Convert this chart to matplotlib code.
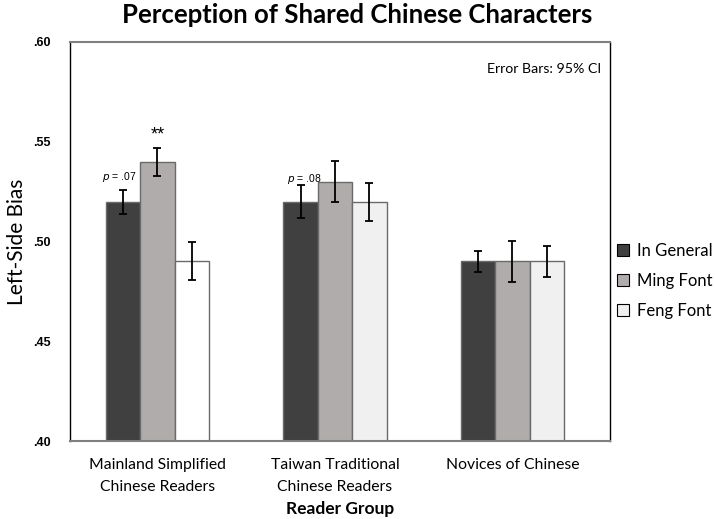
import matplotlib
matplotlib.use("Agg")
import matplotlib.pyplot as plt
import numpy as np
from matplotlib.patches import Patch

groups = ["Mainland Simplified\nChinese Readers", "Taiwan Traditional\nChinese Readers", "Novices of Chinese"]
series = ["In General", "Ming Font", "Feng Font"]
in_general = [0.520, 0.520, 0.490]
ming_font = [0.540, 0.530, 0.490]
feng_font = [0.490, 0.520, 0.490]
err_general = [0.006, 0.0083, 0.0052]
err_ming = [0.007, 0.0104, 0.0103]
err_feng = [0.0095, 0.0095, 0.0078]
yticks = [0.40, 0.45, 0.50, 0.55, 0.60]
ytick_labels = [".40", ".45", ".50", ".55", ".60"]

colors = ["#404040", "#b0acab", "#f0f0f0"]
feng_colors = ["#ffffff", "#f0f0f0", "#f0f0f0"]

fig = plt.figure(figsize=(7.15, 5.19), dpi=100)
ax = fig.add_axes([70/715, 1-441/519, 540/715, 399/519])

x = np.arange(len(groups))
w = 0.194
vals = [in_general, ming_font, feng_font]
errs = [err_general, err_ming, err_feng]
for i, (v, e) in enumerate(zip(vals, errs)):
    fc = feng_colors if i == 2 else colors[i]
    ax.bar(x + (i - 1) * w, v, w, color=fc, edgecolor="#6a6a6a", linewidth=1.0,
           yerr=e, error_kw=dict(ecolor="black", elinewidth=1.3, capsize=3, capthick=1.3), zorder=2)

ax.set_ylim(0.40, 0.60)
ax.set_xlim(-0.493, 2.55)
ax.set_yticks(yticks)
ax.set_yticklabels(ytick_labels, fontfamily="Liberation Sans", fontweight="bold", fontsize=9)
ax.set_xticks(x)
ax.set_xticklabels(groups, fontfamily="Lato", fontsize=11.3, linespacing=1.75)
ax.tick_params(axis="x", length=0, pad=12)
ax.tick_params(axis="y", length=0, pad=14)

for side in ["left", "right"]:
    ax.spines[side].set_color("black")
    ax.spines[side].set_linewidth(1.0)
for side in ["top", "bottom"]:
    ax.spines[side].set_color("#808080")
    ax.spines[side].set_linewidth(1.5)

ax.set_ylabel("Left-Side Bias", fontfamily="Lato", fontsize=15)
ax.yaxis.set_label_coords(-43/540, 0.5)
ax.set_xlabel("Reader Group", fontfamily="Lato", fontweight="bold", fontsize=12.5, labelpad=5)
fig.suptitle("Perception of Shared Chinese Characters", fontfamily="Lato", fontweight="bold",
             fontsize=18.5, y=1 - 15/519, x=357/715, va="center")

ax.text(0.983, 0.932, "Error Bars: 95% CI", transform=ax.transAxes, ha="right", va="center",
        fontfamily="Lato", fontsize=10.2)

# significance annotations
ax.text(x[0], ming_font[0] + err_ming[0] + 0.0063, "**", ha="center", va="center",
        fontfamily="Liberation Sans", fontsize=13)
ax.text(x[0] - w - 0.02, in_general[0] + err_general[0] + 0.0065, "$p$ = .07", ha="center", va="center",
        fontfamily="Liberation Sans", fontsize=7.5)
ax.text(x[1] - w + 0.02, in_general[1] + err_general[1] + 0.003, "$p$ = .08", ha="center", va="center",
        fontfamily="Liberation Sans", fontsize=7.5)

handles = [Patch(facecolor=c, edgecolor="black", linewidth=0.8) for c in colors]
leg = fig.legend(handles, series, loc="upper left", bbox_to_anchor=(610/715, 1-236/519),
                 frameon=False, prop=dict(family="Lato", size=12), handlelength=0.75,
                 handleheight=0.75, handletextpad=0.45, labelspacing=0.85, borderaxespad=0)

fig.savefig("out.png", dpi=100)
